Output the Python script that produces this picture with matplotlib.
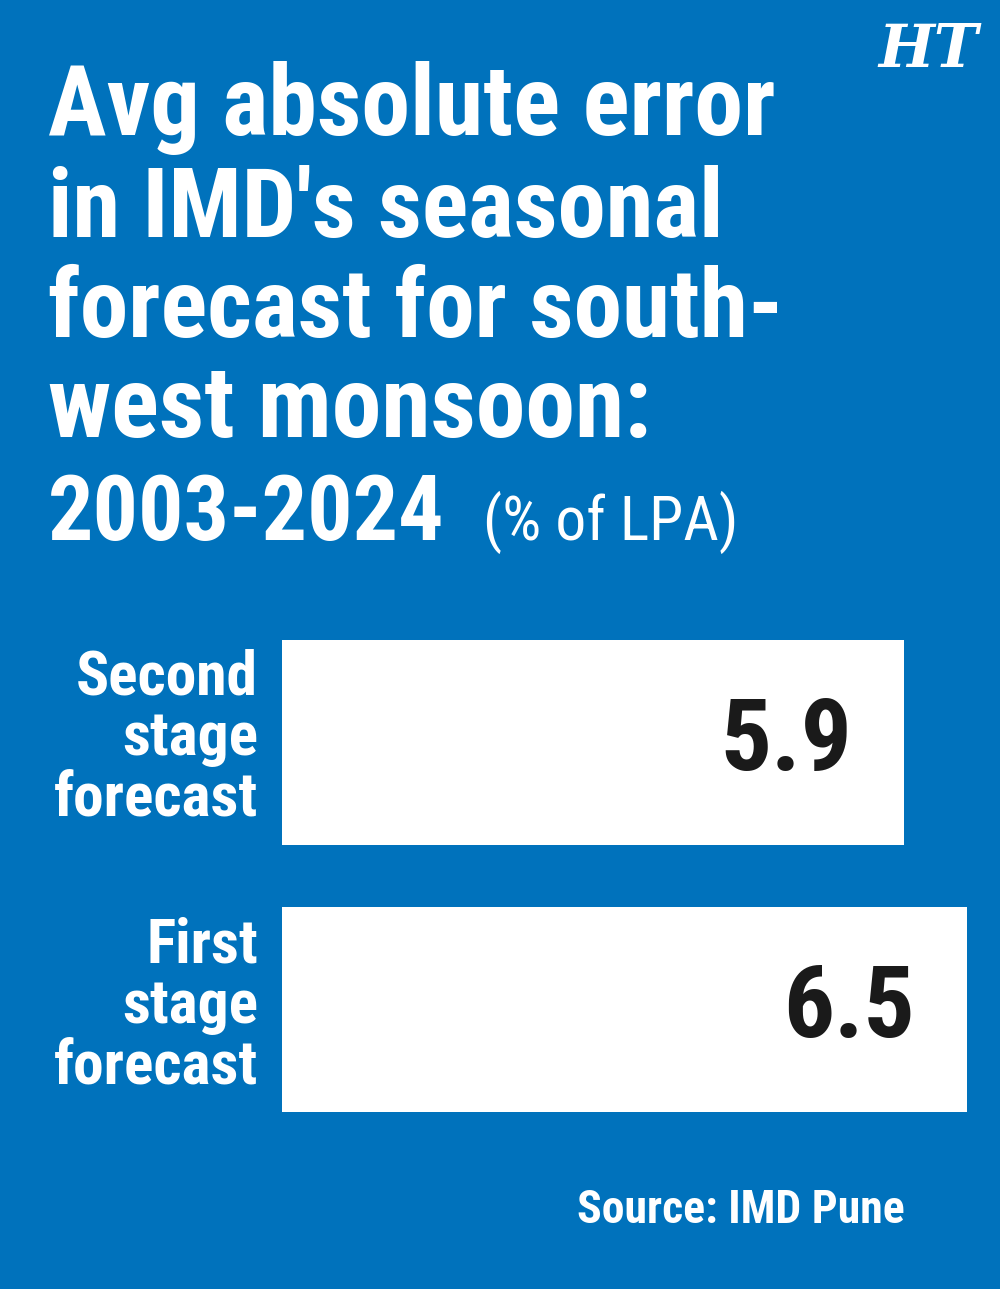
import matplotlib
matplotlib.use("Agg")
import matplotlib.pyplot as plt
from matplotlib import font_manager as fm

# data
categories = ["First\nstage\nforecast", "Second\nstage\nforecast"]
values = [6.5, 5.9]
title_lines = ["Avg absolute error", "in IMD's seasonal", "forecast for south-", "west monsoon:"]
title_years = "2003-2024"
title_unit = "(% of LPA)"
source = "Source: IMD Pune"

bg = "#0072bc"


def is_bold(f):
    w = f.weight
    if isinstance(w, str):
        return w in ("bold", "heavy", "extra bold", "black", "semibold", "demibold")
    return w >= 600


def narrow(f):
    return ("Condensed" in f.name or "Narrow" in f.name
            or f.stretch in ("condensed", "semi-condensed", 87, 75))


# pick a bold condensed face, fall back to DejaVu Sans Bold
faces = [f for f in fm.fontManager.ttflist if narrow(f) and is_bold(f) and f.style == "normal"]
faces.sort(key=lambda f: (0 if "Roboto" in f.name else 1 if "Open" in f.name else 2, f.fname))
if faces:
    bold = fm.FontProperties(fname=faces[0].fname)
else:
    bold = fm.FontProperties(family="DejaVu Sans", weight="bold")
regs = [f for f in fm.fontManager.ttflist if narrow(f) and not is_bold(f) and f.style == "normal"
        and f.weight in (400, "normal", "regular")]
regs.sort(key=lambda f: (0 if "Roboto" in f.name else 1, f.fname))
regular = fm.FontProperties(fname=regs[0].fname) if regs else fm.FontProperties(family="DejaVu Sans")

W, H = 1000, 1289
fig = plt.figure(figsize=(W / 100, H / 100), dpi=100)
fig.patch.set_facecolor(bg)
renderer = fig.canvas.get_renderer()


def fit(t, width):
    # scale a text so it is as wide as in the reference
    w = t.get_window_extent(renderer).width
    t.set_fontsize(t.get_fontsize() * width / w)


# title, one line at a time
baselines = [135, 237, 337, 437, 540]
widths = [727, 675, 735, 603]
for line, yb, w in zip(title_lines, baselines, widths):
    t = fig.text(48 / W, 1 - yb / H, line, color="white", fontproperties=bold,
                 fontsize=64, ha="left", va="baseline")
    fit(t, w)
t = fig.text(48 / W, 1 - baselines[4] / H, title_years, color="white", fontproperties=bold,
             fontsize=64, ha="left", va="baseline")
fit(t, 397)
t = fig.text(483 / W, 1 - baselines[4] / H, title_unit, color="white", fontproperties=regular,
             fontsize=46, ha="left", va="baseline")
fit(t, 255)

# HT logo
t = fig.text(928 / W, 1 - 50 / H, "HT", color="white", fontsize=44, fontweight="bold",
             fontstyle="italic", family=["DejaVu Serif"], ha="center", va="center")
fit(t, 100)

# bars
ax = fig.add_axes([282 / W, 1 - 1112 / H, 685 / W, 472 / H])
ax.set_facecolor(bg)
ypos = [0, 1]
ax.barh(ypos, values, height=0.765, color="white")
ax.set_xlim(0, 6.5)
ax.set_ylim(-0.3825, 1.3825)
ax.axis("off")

for y, v, lab in zip(ypos, values, categories):
    t = ax.annotate(f"{v}", xy=(v, y), xytext=(-52, 0), textcoords="offset pixels",
                    ha="right", va="center", fontproperties=bold, fontsize=70,
                    color="#1a1a1a")
    fit(t, 132)
    t = ax.annotate(lab, xy=(0, y), xytext=(-24, 4), textcoords="offset pixels",
                    ha="right", va="center", multialignment="right", fontproperties=bold,
                    fontsize=46, color="white", linespacing=1.05)
    fit(t, 204)

t = fig.text(905 / W, 1 - 1210 / H, source, color="white", fontproperties=bold,
             fontsize=34, ha="right", va="center")
fit(t, 328)

fig.savefig("out.png", dpi=100, facecolor=bg)
